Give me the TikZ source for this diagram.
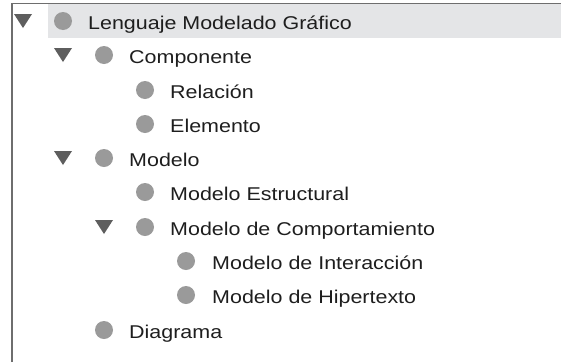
\documentclass[tikz,border=0pt]{standalone}
\usepackage{fontspec}
\setmainfont{Liberation Sans}[FakeStretch=1.16]
\usetikzlibrary{positioning}

\definecolor{bordegris}{HTML}{6E6E6E}
\definecolor{selgris}{HTML}{E4E5E7}
\definecolor{bolagris}{HTML}{9A9A9A}
\definecolor{flechagris}{HTML}{5E5E5E}
\definecolor{textogris}{HTML}{1E1E1E}

\tikzset{
  bola/.style={circle, fill=bolagris, minimum size=18pt, inner sep=0pt},
  texto/.style={anchor=base west, inner sep=0pt, text=textogris, font=\fontsize{18.5pt}{20pt}\selectfont},
  flecha/.style={fill=flechagris},
}
% triangulo de rama abierta
\newcommand{\abierto}[2]{\fill[flecha] (#1-9,#2-7) -- (#1+9,#2-7) -- (#1,#2+7) -- cycle;}

\begin{document}
\begin{tikzpicture}[x=1pt,y=-1pt]
\useasboundingbox (0,0) rectangle (561,362);
% fila seleccionada y borde
\fill[selgris] (48,4) rectangle (561,38);
\draw[bordegris, line width=1.4pt] (12,362) -- (12,3.5) -- (561,3.5);
% nivel 0
\abierto{23}{21}
\node[bola] (lmg) at (63,21) {};
\node[texto] (lmgt) at (88,29) {Lenguaje Modelado Gráfico};
% Componente
\abierto{63}{55}
\node[bola] (comp) at (104,55) {};
\node[texto] (compt) at (129,63) {Componente};
\node[bola] (rel) at (145,90) {};
\node[texto] (relt) at (170,98) {Relación};
\node[bola] (elem) at (145,124) {};
\node[texto] (elemt) at (170,132) {Elemento};
% Modelo
\abierto{63}{158}
\node[bola] (mod) at (104,158) {};
\node[texto] (modt) at (129,166) {Modelo};
\node[bola] (mest) at (145,192) {};
\node[texto] (mestt) at (170,200) {Modelo Estructural};
\abierto{104}{227}
\node[bola] (mcomp) at (145,227) {};
\node[texto] (mcompt) at (170,235) {Modelo de Comportamiento};
\node[bola] (minter) at (186,261) {};
\node[texto] (mintert) at (212,269) {Modelo de Interacción};
\node[bola] (mhiper) at (186,295) {};
\node[texto] (mhipert) at (212,303) {Modelo de Hipertexto};
% Diagrama
\node[bola] (diag) at (104,330) {};
\node[texto] (diagt) at (129,338) {Diagrama};
\end{tikzpicture}
\end{document}
